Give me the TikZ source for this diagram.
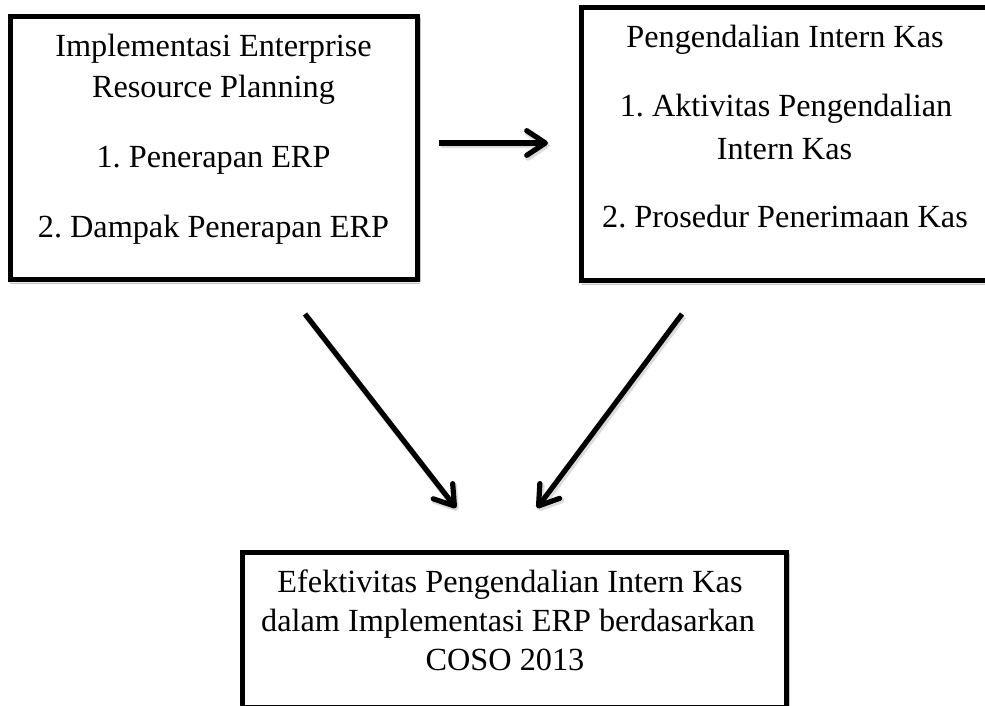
\documentclass[tikz,border=0pt]{standalone}
\usepackage{fontspec}
\setmainfont{Liberation Serif}
\usetikzlibrary{arrows.meta,shadows.blur}
\frenchspacing
\begin{document}
\begin{tikzpicture}[x=0.75pt,y=-0.75pt,
  boxnode/.style={draw=black, line width=3.75pt, fill=white, rectangle, inner sep=0pt, outer sep=0pt,
    blur shadow={shadow xshift=1pt, shadow yshift=-1.2pt, shadow blur radius=1.5pt, shadow opacity=35}},
  txt/.style={anchor=base, inner sep=0pt, font=\fontsize{24.2}{30}\selectfont},
  arrowhd/.style={-{Straight Barb[length=14pt,width=18.5pt,round]}},
  arr/.style={arrowhd, line width=3.9pt, draw=black},
  arrshadow/.style={arrowhd, line width=4.5pt, draw=black!30, opacity=.45, transform canvas={xshift=1.2pt,yshift=-1.8pt}}]
\useasboundingbox (0,0) rectangle (985,706);
\fill[white] (0,0) rectangle (985,706);

% boxes
\node[boxnode, minimum width=305.25pt, minimum height=197.6pt] (b1) at (213.5,148.25) {};
\node[boxnode, minimum width=307.1pt, minimum height=205.1pt] (b2) at (786.25,144.25) {};
\node[boxnode, minimum width=408pt, minimum height=116.6pt] (b3) at (514,630.25) {};

% texts box 1
\node[txt] (t11) at (213.5,57) {Implementasi Enterprise};
\node[txt] (t12) at (213.5,98) {Resource Planning};
\node[txt] (t13) at (213.5,168) {1. Penerapan ERP};
\node[txt] (t14) at (213.5,237) {2. Dampak Penerapan ERP};

% texts box 2
\node[txt] (t21) at (785,48) {Pengendalian Intern Kas};
\node[txt] (t22) at (786,117) {1. Aktivitas Pengendalian};
\node[txt] (t23) at (784.5,160) {Intern Kas};
\node[txt] (t24) at (785,228) {2. Prosedur Penerimaan Kas};

% texts box 3
\node[txt] (t31) at (510,592) {Efektivitas Pengendalian Intern Kas};
\node[txt] (t32) at (508,631) {dalam Implementasi ERP berdasarkan};
\node[txt] (t33) at (505,670) {COSO 2013};

% arrow end points
\coordinate (h1) at (439,143);
\coordinate (h2) at (548,143);
\coordinate (d1s) at (305,314);
\coordinate (d1e) at (456,508);
\coordinate (d2s) at (682,314);
\coordinate (d2e) at (537,508);

% shadows
\draw[arrshadow] (h1) -- (h2);
\draw[arrshadow] (d1s) -- (d1e);
\draw[arrshadow] (d2s) -- (d2e);
% arrows
\draw[arr] (h1) -- (h2);
\draw[arr] (d1s) -- (d1e);
\draw[arr] (d2s) -- (d2e);
\end{tikzpicture}
\end{document}
